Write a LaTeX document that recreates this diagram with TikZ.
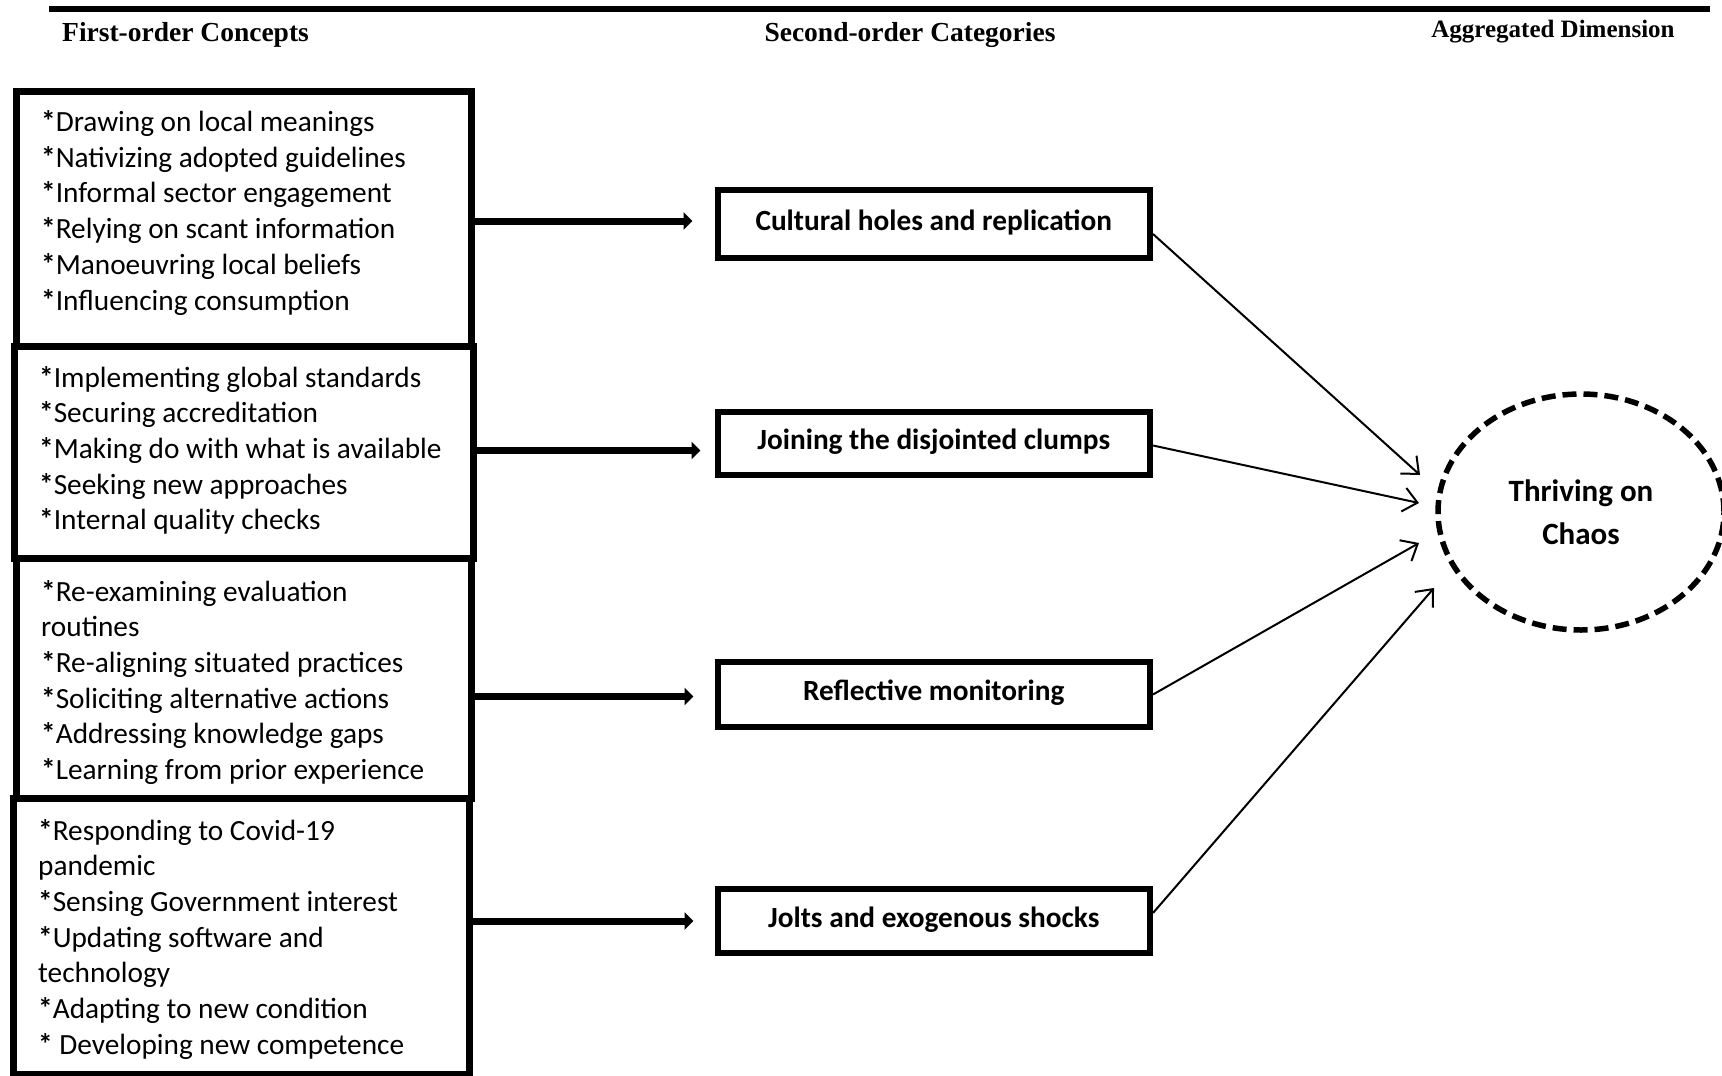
\documentclass[tikz,border=0pt]{standalone}
\usepackage{fontspec}
\setmainfont{Carlito}
\newfontfamily\headfont{Liberation Serif}
\usetikzlibrary{shapes.geometric,arrows.meta,calc}

% bold asterisk that opens every concept line
\newcommand\starmark{{\bfseries*}}

\begin{document}
\begin{tikzpicture}[x=1pt,y=-1pt,
  conceptbox/.style={draw, line width=7pt, rectangle, inner sep=0pt},
  conceptlist/.style={anchor=base west, inner sep=0pt,
    font=\fontsize{29.3pt}{35.7pt}\selectfont},
  categorybox/.style={draw, line width=6pt, rectangle, inner sep=0pt,
    minimum width=432.5pt, text height=19pt, text depth=7pt,
    font=\fontsize{29.3pt}{35.7pt}\selectfont\bfseries},
  header/.style={anchor=base, inner sep=0pt,
    font=\headfont\bfseries\fontsize{27.5pt}{33pt}\selectfont},
  feed/.style={line width=7pt, -{Triangle[length=9pt,width=17pt]}},
  link/.style={line width=2pt, -{Straight Barb[length=14pt,width=24pt,line width=2pt]}},
  aggregate/.style={ellipse, draw, line width=5.5pt, dash pattern=on 14pt off 7pt,
    inner sep=0pt, minimum width=286pt, minimum height=236pt, align=center,
    font=\fontsize{31pt}{43pt}\selectfont\bfseries}
]
\useasboundingbox (0,0) rectangle (1722,1076);

% top rule and column headings
\draw[line width=6pt] (49,9) -- (1710,9);
\node[header, anchor=base west] (h1) at (62,41) {First-order Concepts};
\node[header] (h2) at (910,41) {Second-order Categories};
\node[header, font=\headfont\bfseries\fontsize{25pt}{30pt}\selectfont] (h3) at (1553,37) {Aggregated Dimension};

% first-order concept boxes
\node[conceptbox, minimum width=455pt, minimum height=255pt] (b1) at (243.5,218.5) {};
\node[conceptbox, minimum width=459pt, minimum height=212pt] (b2) at (243.5,452) {};
\node[conceptbox, minimum width=455pt, minimum height=240pt] (b3) at (243.5,678) {};
\node[conceptbox, minimum width=455.5pt, minimum height=276pt] (b4) at (241.25,936) {};

\node[conceptlist] (t1) at (41,131.5) {\parbox[t]{420pt}{%
  \starmark Drawing on local meanings\\
  \starmark Nativizing adopted guidelines\\
  \starmark Informal sector engagement\\
  \starmark Relying on scant information\\
  \starmark Manoeuvring local beliefs\\
  \starmark Influencing consumption}};
\node[conceptlist] (t2) at (39,387) {\parbox[t]{425pt}{%
  \starmark Implementing global standards\\
  \starmark Securing accreditation\\
  \starmark Making do with what is available\\
  \starmark Seeking new approaches\\
  \starmark Internal quality checks}};
\node[conceptlist] (t3) at (41,601) {\parbox[t]{420pt}{%
  \starmark Re-examining evaluation\\
  routines\\
  \starmark Re-aligning situated practices\\
  \starmark Soliciting alternative actions\\
  \starmark Addressing knowledge gaps\\
  \starmark Learning from prior experience}};
\node[conceptlist] (t4) at (38,840) {\parbox[t]{420pt}{%
  \starmark Responding to Covid-19\\
  pandemic\\
  \starmark Sensing Government interest\\
  \starmark Updating software and\\
  technology\\
  \starmark Adapting to new condition\\
  \starmark\ Developing new competence}};

% second-order category boxes
\node[categorybox, minimum height=68pt] (c1) at (933.75,224) {Cultural holes and replication};
\node[categorybox, minimum height=63pt] (c2) at (933.75,443.5) {Joining the disjointed clumps};
\node[categorybox, minimum height=65pt] (c3) at (933.75,694.5) {Reflective monitoring};
\node[categorybox, minimum height=64pt] (c4) at (933.75,921) {Jolts and exogenous shocks};

% aggregated dimension
\node[aggregate] (agg) at (1581,512) {Thriving on\\Chaos};

% where the thin arrows stop, just short of the ellipse
\coordinate (e1) at (1420,475);
\coordinate (e2) at (1419,503);
\coordinate (e3) at (1419,543);
\coordinate (e4) at (1434,588);

% concepts feed categories
\draw[feed, shorten >=22pt] ($(b1.east |- c1.west)+(0,-3)$) -- ($(c1.west)+(0,-3)$);
\draw[feed, shorten >=14pt] ($(b2.east |- c2.west)+(0,7)$) -- ($(c2.west)+(0,7)$);
\draw[feed, shorten >=21pt] ($(b3.east |- c3.west)+(0,2)$) -- ($(c3.west)+(0,2)$);
\draw[feed, shorten >=21pt] (b4.east |- c4.west) -- (c4.west);

% categories feed the aggregated dimension
\draw[link] ($(c1.east)+(0,10)$) -- (e1);
\draw[link] ($(c2.east)+(0,2)$) -- (e2);
\draw[link] (c3.east) -- (e3);
\draw[link] ($(c4.east)+(0,-8)$) -- (e4);
\end{tikzpicture}
\end{document}
